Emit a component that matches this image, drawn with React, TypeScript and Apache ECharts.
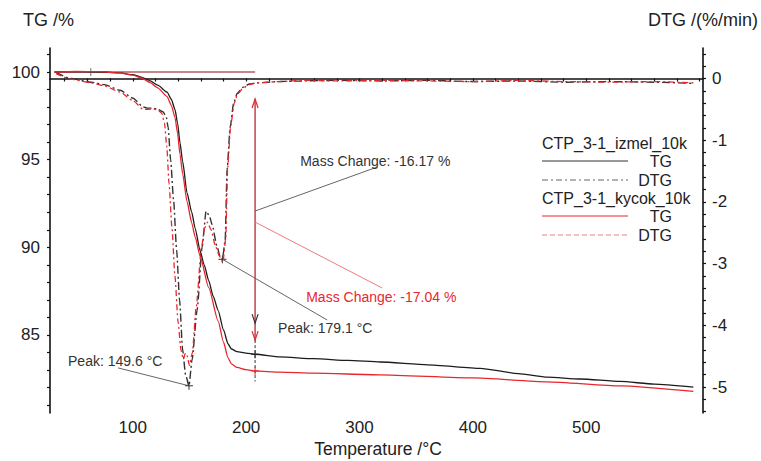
import React, { useEffect, useRef } from 'react';
import * as echarts from 'echarts';

const FONT = '"Liberation Sans", Arial, Helvetica, sans-serif';
const RED = '#e8262d';
const BLACK = '#1c1c1c';

// ---- axis ticks / labels ----
const xTickLabels = [100, 200, 300, 400, 500];
const xTicks = [40, 60, 80, 100, 120, 140, 160, 180, 200, 220, 240, 260, 280, 300, 320, 340, 360, 380, 400, 420, 440, 460, 480, 500, 520, 540, 560, 580, 600];
const tgTickLabels = [85, 90, 95, 100];
const tgTicks = [81, 82, 83, 84, 85, 86, 87, 88, 89, 90, 91, 92, 93, 94, 95, 96, 97, 98, 99, 100, 101];
const dtgTickLabels = [-5, -4, -3, -2, -1, 0];
const dtgTicks = [-5.4, -5.2, -5, -4.8, -4.6, -4.4, -4.2, -4, -3.8, -3.6, -3.4, -3.2, -3, -2.8, -2.6, -2.4, -2.2, -2, -1.8, -1.6, -1.4, -1.2, -1, -0.8, -0.6, -0.4, -0.2, 0, 0.2, 0.4];

// ---- TG, CTP_3-1_izmel_10k ----
const tgIzmelT = [31, 50, 70, 88.8, 100, 108, 115.3, 122, 130.3, 134, 137.3, 139.5, 141.7, 144, 147.9, 152, 155, 159.4, 163, 167, 171, 175.3, 180, 184, 187, 192, 200, 207.9, 230, 260, 290, 318.3, 360, 406.5, 440, 465.6, 494.8, 530, 560, 594.5];
const tgIzmelV = [100.0, 100.02, 100.0, 99.95, 99.85, 99.7, 99.5, 99.25, 98.85, 98.45, 97.85, 97.1, 95.95, 94.9, 93.1, 92.0, 91.1, 89.8, 89.0, 88.1, 87.2, 86.4, 85.3, 84.5, 84.2, 84.05, 83.97, 83.9, 83.75, 83.65, 83.55, 83.46, 83.3, 83.1, 82.8, 82.6, 82.49, 82.35, 82.2, 82.03];

// ---- TG, CTP_3-1_kycok_10k ----
const tgKycokT = [31, 50, 70, 88.8, 100, 108, 115.3, 122, 130.3, 134, 137.3, 139.5, 141.7, 144, 147.9, 152, 155, 159.4, 167, 175.3, 180, 184, 187, 192, 200, 207.9, 230, 260, 318.3, 400, 465.6, 530, 594.5];
const tgKycokV = [100.0, 100.03, 100.02, 99.95, 99.82, 99.65, 99.4, 99.1, 98.6, 98.1, 97.4, 96.5, 95.3, 94.2, 92.6, 91.4, 90.6, 89.5, 87.7, 85.8, 84.6, 83.7, 83.35, 83.15, 83.02, 82.95, 82.88, 82.82, 82.73, 82.55, 82.33, 82.1, 81.78];

// ---- DTG, CTP_3-1_izmel_10k ----
const dtgIzmelT = [32.3, 45, 63.2, 75, 88.8, 100.3, 109.1, 113, 117.9, 122, 126.7, 129.5, 131.2, 133.4, 136.0, 138.7, 141.3, 144.0, 146.6, 149.6, 152.3, 156.8, 161.2, 164.7, 167.5, 170, 174.4, 177, 179.1, 181.5, 183.2, 185.9, 189, 192.1, 197.4, 203, 209.7, 230, 247.7, 280, 320, 360, 400, 440, 480, 520, 560, 594.5];
const dtgIzmelV = [0.10, 0.0, -0.06, -0.1, -0.19, -0.32, -0.46, -0.48, -0.48, -0.5, -0.54, -0.62, -0.79, -1.32, -1.97, -2.78, -3.59, -4.40, -4.80, -4.98, -4.56, -3.75, -2.73, -2.15, -2.22, -2.37, -2.73, -2.88, -2.93, -2.62, -1.48, -0.79, -0.4, -0.24, -0.14, -0.09, -0.07, -0.05, -0.04, -0.03, -0.04, -0.03, -0.05, -0.04, -0.06, -0.05, -0.06, -0.08];

// ---- DTG, CTP_3-1_kycok_10k ----
const dtgKycokT = [32.3, 45, 63.2, 75, 88.8, 100.3, 109.1, 113, 117.9, 122, 125.5, 128, 130, 132, 134.5, 137.2, 140, 142.5, 144.5, 146.5, 148, 150, 152.5, 156, 160.5, 163.5, 166, 169, 173, 176.5, 179.5, 182, 183.7, 186.3, 189.5, 192.5, 197.5, 203, 210, 230, 250, 280, 320, 360, 400, 440, 480, 520, 560, 594.5];
const dtgKycokV = [0.08, -0.01, -0.07, -0.12, -0.22, -0.36, -0.5, -0.5, -0.49, -0.51, -0.56, -0.72, -1.1, -1.7, -2.4, -3.2, -3.95, -4.4, -4.55, -4.45, -4.5, -4.65, -4.45, -3.7, -2.75, -2.42, -2.33, -2.45, -2.72, -2.88, -2.98, -2.6, -1.45, -0.78, -0.4, -0.25, -0.15, -0.1, -0.07, -0.05, -0.03, -0.04, -0.03, -0.04, -0.05, -0.03, -0.05, -0.06, -0.05, -0.07];

// ---- evaluation annotations (data units) ----
const massChangeT = 207.9;          // evaluation temperature
const refLineT = [31, 207.9];       // TG = 100 reference line
const refCrossT = 63;
const massArrowTG = [98.46, 84.71, 85.68]; // top, red head, black head
const massDashEndTG = 82.35;
const massChangeLabels = ['Mass Change: -16.17 %', 'Mass Change: -17.04 %'];
const massLeaderTG = [92.07, 91.44];
const massLeaderEnd = [[315.6, 94.58], [320, 87.68]];
const massTextPos = [[247.7, 94.92], [253, 87.16]];
const peakLabels = ['Peak: 179.1 °C', 'Peak: 149.6 °C'];
const peakPoints = [[179.1, -2.93], [149.6, -4.98]];
const peakLeaderEnd = [[271.5, -3.914], [87.0, -4.69]];
const peakTextPos = [[228.2, -4.04], [42.9, -4.58]];

const zip = (a: number[], b: number[]) => a.map((t, i) => [t, b[i]]);

export default function App() {
  const ref = useRef<HTMLDivElement>(null);
  useEffect(() => {
    const chart = echarts.init(ref.current!, null, { renderer: 'svg' });
    const labelStyle = { fontFamily: FONT, fontSize: 17, color: '#222' };
    chart.setOption({
      animation: false,
      backgroundColor: '#fff',
      grid: { left: 50, right: 58, top: 48, bottom: 48 },
      xAxis: {
        type: 'value', min: 27, max: 603,
        axisLine: { show: true, lineStyle: { color: '#111', width: 1.6 } },
        axisTick: { show: true, length: 3, customValues: xTicks, lineStyle: { color: '#111', width: 1.2 } },
        axisLabel: { ...labelStyle, margin: 6, customValues: xTickLabels },
        splitLine: { show: false },
      },
      yAxis: [
        {
          type: 'value', position: 'left', min: 80.55, max: 101.37,
          axisLine: { show: true, onZero: false, lineStyle: { color: '#111', width: 1.6 } },
          axisTick: { show: true, length: 3, customValues: tgTicks, lineStyle: { color: '#111', width: 1.2 } },
          axisLabel: { ...labelStyle, margin: 10, customValues: tgTickLabels },
          splitLine: { show: false },
        },
        {
          type: 'value', position: 'right', min: -5.421, max: 0.494,
          axisLine: { show: true, onZero: false, lineStyle: { color: '#111', width: 1.6 } },
          axisTick: { show: true, length: 3, customValues: dtgTicks, lineStyle: { color: '#111', width: 1.2 } },
          axisLabel: { ...labelStyle, margin: 9, customValues: dtgTickLabels, formatter: (v: number) => String(Math.round(v)) },
          splitLine: { show: false },
        },
      ],
      series: [
        { name: 'DTG izmel', type: 'line', yAxisIndex: 1, data: zip(dtgIzmelT, dtgIzmelV), showSymbol: false, smooth: 0.2, smoothMonotone: 'x',
          lineStyle: { color: '#333', width: 1.4, type: [8, 3, 2, 3] } },
        { name: 'DTG kycok', type: 'line', yAxisIndex: 1, data: zip(dtgKycokT, dtgKycokV), showSymbol: false, smooth: 0.2, smoothMonotone: 'x',
          lineStyle: { color: RED, width: 1.3, type: [6, 3, 2, 3] } },
        { name: 'TG izmel', type: 'line', yAxisIndex: 0, data: zip(tgIzmelT, tgIzmelV), showSymbol: false, smooth: 0.2, smoothMonotone: 'x',
          lineStyle: { color: BLACK, width: 1.3 } },
        { name: 'TG kycok', type: 'line', yAxisIndex: 0, data: zip(tgKycokT, tgKycokV), showSymbol: false, smooth: 0.2, smoothMonotone: 'x',
          lineStyle: { color: RED, width: 1.3 } },
      ],
    });

    const P = (t: number, v: number, yi: number) => chart.convertToPixel({ xAxisIndex: 0, yAxisIndex: yi }, [t, v]) as number[];
    const g: any[] = [];
    const line = (a: number[], b: number[], stroke: string, w = 1, dash?: number[]) =>
      g.push({ type: 'line', silent: true, shape: { x1: a[0], y1: a[1], x2: b[0], y2: b[1] }, style: { stroke, lineWidth: w, lineDash: dash } });
    const cross = (p: number[], stroke: string, s = 4) => {
      line([p[0] - s, p[1]], [p[0] + s, p[1]], stroke, 1);
      line([p[0], p[1] - s], [p[0], p[1] + s], stroke, 1);
    };
    const text = (x: number, y: number, s: string, fill: string, size: number, align = 'left') =>
      g.push({ type: 'text', silent: true, x, y, style: { text: s, fill, fontFamily: FONT, fontSize: size, align, textAlign: align, verticalAlign: 'middle', textVerticalAlign: 'middle' } });
    const vhead = (p: number[], dir: number, stroke: string) =>
      g.push({ type: 'polyline', silent: true, shape: { points: [[p[0] - 3, p[1] - dir * 9], p, [p[0] + 3, p[1] - dir * 9]] }, style: { stroke, lineWidth: 1.2, fill: 'none' } });

    // reference line at TG = 100
    line(P(refLineT[0], 100, 0), P(refLineT[1], 100, 0), '#888', 1.4);
    line(P(refLineT[0], 100, 0), P(refLineT[1], 100, 0), '#e4666b', 1.2);
    cross(P(refCrossT, 100, 0), '#777', 4);

    // mass change arrow
    const top = P(massChangeT, massArrowTG[0], 0);
    const redHead = P(massChangeT, massArrowTG[1], 0);
    const blackHead = P(massChangeT, massArrowTG[2], 0);
    line(top, redHead, '#b8282d', 1.3);
    vhead(top, -1, RED);
    vhead(blackHead, 1, '#333');
    vhead(redHead, 1, RED);
    line(redHead, P(massChangeT, massDashEndTG, 0), '#333', 1, [3, 2]);
    cross(P(massChangeT, 83.9, 0), '#333', 4);
    cross(P(massChangeT, 82.95, 0), RED, 4);

    // mass change labels
    const colors = ['#666', '#f07a7e'];
    const tcolors = ['#333', RED];
    for (let i = 0; i < 2; i++) {
      line(P(massChangeT, massLeaderTG[i], 0), P(massLeaderEnd[i][0], massLeaderEnd[i][1], 0), colors[i], 1);
      const tp = P(massTextPos[i][0], massTextPos[i][1], 0);
      text(tp[0], tp[1], massChangeLabels[i], tcolors[i], 14);
    }
    // peak labels
    for (let i = 0; i < 2; i++) {
      const pp = P(peakPoints[i][0], peakPoints[i][1], 1);
      line(pp, P(peakLeaderEnd[i][0], peakLeaderEnd[i][1], 1), '#666', 1);
      cross(pp, '#333', 4);
      const tp = P(peakTextPos[i][0], peakTextPos[i][1], 1);
      text(tp[0], tp[1], peakLabels[i], '#333', 14);
    }

    // axis titles
    text(23, 20, 'TG /%', '#222', 18);
    text(758, 20, 'DTG /(%/min)', '#222', 18, 'right');
    text(378, 449, 'Temperature /°C', '#222', 17.5, 'center');

    // legend
    text(542, 143, 'CTP_3-1_izmel_10k', '#222', 16);
    line([542, 161], [628, 161], '#333', 1);
    text(672, 161, 'TG', '#222', 16, 'right');
    line([542, 180], [628, 180], '#666', 1, [6, 3, 2, 3]);
    text(672, 180, 'DTG', '#222', 16, 'right');
    text(542, 198, 'CTP_3-1_kycok_10k', '#222', 16);
    line([542, 216], [628, 216], RED, 1);
    text(672, 216, 'TG', '#222', 16, 'right');
    line([542, 235], [628, 235], '#f07a7e', 1, [5, 3]);
    text(672, 235, 'DTG', '#222', 16, 'right');

    chart.setOption({ graphic: g });
    return () => chart.dispose();
  }, []);
  return <div ref={ref} style={{ position: 'fixed', left: 0, top: 0, width: 761, height: 461, background: '#fff' }} />;
}
